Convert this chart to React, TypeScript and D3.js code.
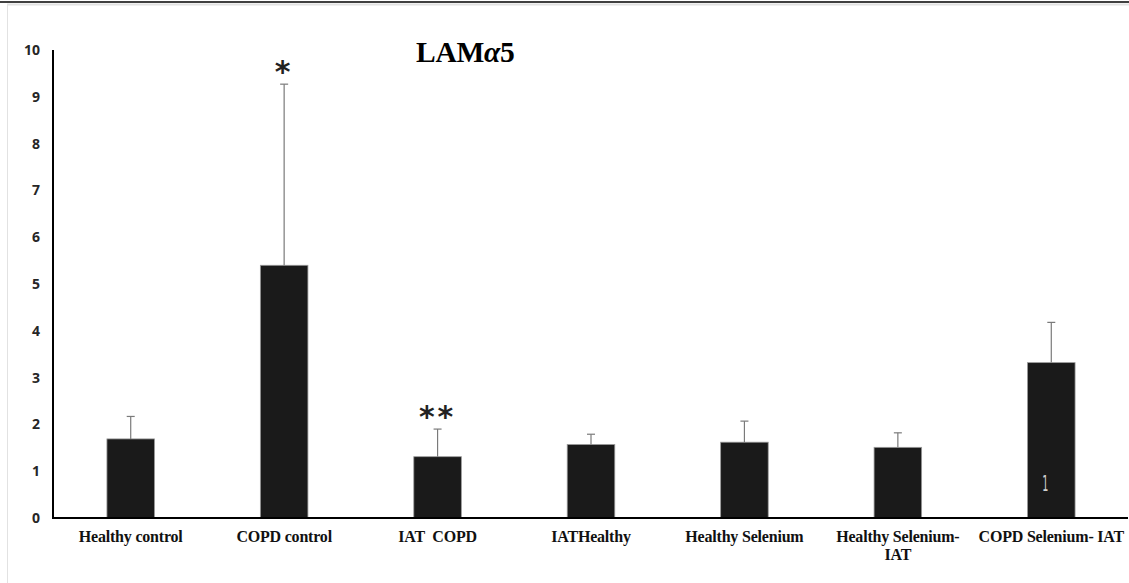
import { useEffect, useRef } from "react";
import * as d3 from "d3";

const W = 1129;
const H = 583;

const categories = [
  "Healthy control",
  "COPD control",
  "IAT  COPD",
  "IATHealthy",
  "Healthy Selenium",
  "Healthy Selenium-|IAT",
  "COPD Selenium- IAT",
];
const means = [1.69, 5.4, 1.31, 1.57, 1.62, 1.51, 3.32];
const upper = [2.17, 9.27, 1.9, 1.79, 2.07, 1.82, 4.18];
const marks = ["", "*", "**", "", "", "", ""];
const yTicks = [0, 1, 2, 3, 4, 5, 6, 7, 8, 9, 10];

// plot box in page pixels
const X0 = 54, X1 = 1128;
const Y0 = 518, Y1 = 50;

export default function App() {
  const svgRef = useRef<SVGSVGElement | null>(null);

  useEffect(() => {
    if (!svgRef.current) return;
    const svg = d3.select(svgRef.current);
    svg.selectAll("*").remove();

    const x = d3.scaleBand().domain(categories).range([X0, X1]).paddingInner(0.69).paddingOuter(0.345);
    const y = d3.scaleLinear().domain([0, 10]).range([Y0, Y1]);

    // frame
    svg.append("rect").attr("width", W).attr("height", H).attr("fill", "#fff");
    svg.append("line").attr("x1", 0).attr("x2", W).attr("y1", 2).attr("y2", 2)
      .attr("stroke", "#000").attr("stroke-width", 1.5);
    svg.append("line").attr("x1", 7).attr("x2", W).attr("y1", 4.5).attr("y2", 4.5)
      .attr("stroke", "#e2e2e2").attr("stroke-width", 2);
    svg.append("line").attr("x1", 7.5).attr("x2", 7.5).attr("y1", 4).attr("y2", H)
      .attr("stroke", "#e2e2e2").attr("stroke-width", 1);

    // title
    const title = svg.append("text").attr("x", 416).attr("y", 62)
      .attr("font-family", "'Liberation Serif', 'Times New Roman', serif")
      .attr("font-weight", "bold").attr("font-size", 29.5).attr("fill", "#000")
      .attr("letter-spacing", -0.3);
    title.append("tspan").text("LAM");
    title.append("tspan").attr("font-style", "italic").text("α");
    title.append("tspan").text("5");

    // y tick labels
    svg.append("g").selectAll("text").data(yTicks).join("text")
      .attr("x", 40).attr("y", d => y(d)).attr("dy", "0.36em")
      .attr("text-anchor", "end")
      .attr("font-family", "'Open Sans', 'DejaVu Sans', sans-serif")
      .attr("font-weight", "bold").attr("font-size", 14).attr("fill", "#262626")
      .text(d => d);

    // bars
    svg.append("g").selectAll("rect").data(categories).join("rect")
      .attr("x", d => x(d)!)
      .attr("width", x.bandwidth())
      .attr("y", (d, i) => y(means[i]))
      .attr("height", (d, i) => y(0) - y(means[i]))
      .attr("fill", "#1a1a1a").attr("stroke", "#9a9a9a").attr("stroke-width", 0.8);

    // error bars
    const eg = svg.append("g").attr("stroke", "#7a7a7a").attr("stroke-width", 1.2);
    categories.forEach((c, i) => {
      const cx = x(c)! + x.bandwidth() / 2;
      eg.append("line").attr("x1", cx).attr("x2", cx)
        .attr("y1", y(means[i])).attr("y2", y(upper[i]));
      eg.append("line").attr("x1", cx - 4).attr("x2", cx + 4)
        .attr("y1", y(upper[i])).attr("y2", y(upper[i]));
    });

    // significance marks
    svg.append("g").selectAll("text").data(categories).join("text")
      .attr("x", d => x(d)! + x.bandwidth() / 2)
      .attr("y", (d, i) => y(upper[i]) - 2)
      .attr("text-anchor", "middle")
      .attr("font-family", "'DejaVu Sans', sans-serif")
      .attr("font-weight", "bold")
      .attr("font-size", 30).attr("fill", "#222")
      .attr("letter-spacing", 3)
      .text((d, i) => marks[i]);

    // stray mark inside last bar
    const last = categories[categories.length - 1];
    svg.append("text")
      .attr("transform", `translate(${x(last)! + x.bandwidth() / 2 - 9},491) scale(0.6,1.3)`)
      .attr("font-family", "'DejaVu Sans', sans-serif").attr("font-size", 16)
      .attr("fill", "#d0d0d0").text("1");

    // axes
    svg.append("line").attr("x1", 53).attr("x2", 53).attr("y1", Y1).attr("y2", Y0 + 1)
      .attr("stroke", "#000").attr("stroke-width", 2);
    svg.append("line").attr("x1", 52).attr("x2", X1).attr("y1", Y0).attr("y2", Y0)
      .attr("stroke", "#000").attr("stroke-width", 2.2);

    // category labels
    const lg = svg.append("g")
      .attr("font-family", "'Liberation Serif', 'Times New Roman', serif")
      .attr("font-weight", "bold").attr("font-size", 16).attr("fill", "#111")
      .attr("letter-spacing", -0.2)
      .attr("text-anchor", "middle");
    categories.forEach(c => {
      const lines = c.split("|");
      const cx = x(c)! + x.bandwidth() / 2;
      const t = lg.append("text").attr("x", cx).attr("y", 542)
        .style("white-space", "pre");
      lines.forEach((ln, k) => {
        t.append("tspan").attr("x", cx).attr("dy", k === 0 ? 0 : 18).text(ln);
      });
    });
  }, []);

  return (
    <svg
      ref={svgRef}
      width={W}
      height={H}
      style={{ position: "absolute", left: 0, top: 0, display: "block" }}
    />
  );
}
